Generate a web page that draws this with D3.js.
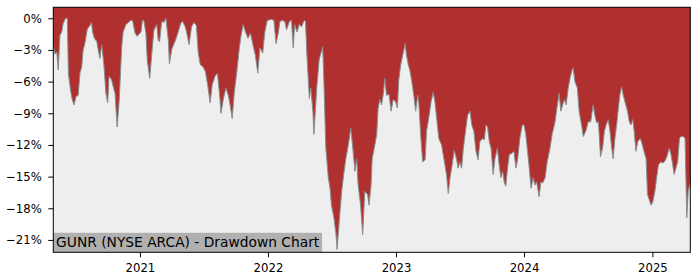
<!DOCTYPE html>
<html>
<head>
<meta charset="utf-8">
<script src="https://cdn.jsdelivr.net/npm/d3@7"></script>
<style>
  body { margin: 0; background: #fff; }
  svg { display: block; font-family: "DejaVu Sans", sans-serif; }
</style>
</head>
<body>
<div id="container"></div>
<script>
const width = 700, height = 280;
const margin = { top: 7.3, right: 9.7, bottom: 27.7, left: 53.3 };

const title = "GUNR (NYSE ARCA) - Drawdown Chart";

// drawdown in %
const dates = [
  "2020-04-29","2020-05-04","2020-05-09","2020-05-13","2020-05-18","2020-05-23","2020-05-27","2020-06-03","2020-06-08","2020-06-11",
  "2020-06-17","2020-06-22","2020-06-27","2020-07-03","2020-07-09","2020-07-14","2020-07-19","2020-07-23","2020-07-28","2020-08-04",
  "2020-08-09","2020-08-16","2020-08-19","2020-08-24","2020-08-31","2020-09-04","2020-09-09","2020-09-14","2020-09-20","2020-09-26",
  "2020-10-01","2020-10-05","2020-10-12","2020-10-17","2020-10-22","2020-10-28","2020-11-03","2020-11-10","2020-11-14","2020-11-22",
  "2020-11-29","2020-12-05","2020-12-11","2020-12-18","2020-12-24","2021-01-04","2021-01-08","2021-01-12","2021-01-18","2021-01-22",
  "2021-01-29","2021-02-03","2021-02-10","2021-02-18","2021-02-22","2021-02-26","2021-03-04","2021-03-10","2021-03-16","2021-03-23",
  "2021-03-26","2021-04-02","2021-04-12","2021-04-20","2021-04-27","2021-05-03","2021-05-10","2021-05-14","2021-05-21","2021-05-28",
  "2021-06-04","2021-06-11","2021-06-16","2021-06-22","2021-06-30","2021-07-07","2021-07-13","2021-07-20","2021-07-26","2021-08-03",
  "2021-08-10","2021-08-17","2021-08-20","2021-08-27","2021-09-03","2021-09-10","2021-09-15","2021-09-21","2021-09-27","2021-10-04",
  "2021-10-11","2021-10-15","2021-10-22","2021-10-29","2021-11-05","2021-11-12","2021-11-19","2021-11-26","2021-12-03","2021-12-09",
  "2021-12-17","2021-12-23","2021-12-30","2022-01-11","2022-01-18","2022-01-24","2022-01-31","2022-02-04","2022-02-11","2022-02-18",
  "2022-02-23","2022-03-03","2022-03-09","2022-03-14","2022-03-18","2022-03-25","2022-03-31","2022-04-07","2022-04-14","2022-04-18",
  "2022-04-22","2022-04-29","2022-05-03","2022-05-09","2022-05-12","2022-05-20","2022-05-27","2022-06-06","2022-06-10","2022-06-15",
  "2022-06-22","2022-06-27","2022-07-01","2022-07-08","2022-07-14","2022-07-17","2022-07-23","2022-07-30","2022-08-06","2022-08-11",
  "2022-08-18","2022-08-25","2022-08-30","2022-09-06","2022-09-11","2022-09-15","2022-09-22","2022-09-28","2022-10-04","2022-10-12",
  "2022-10-16","2022-10-22","2022-10-25","2022-10-31","2022-11-07","2022-11-11","2022-11-16","2022-11-21","2022-11-26","2022-11-30",
  "2022-12-05","2022-12-12","2022-12-18","2022-12-24","2022-12-31","2023-01-05","2023-01-09","2023-01-15","2023-01-22","2023-01-27",
  "2023-01-31","2023-02-05","2023-02-10","2023-02-15","2023-02-22","2023-02-26","2023-03-04","2023-03-07","2023-03-13","2023-03-18",
  "2023-03-25","2023-03-29","2023-04-05","2023-04-11","2023-04-17","2023-04-22","2023-04-27","2023-05-03","2023-05-11","2023-05-19",
  "2023-05-25","2023-05-30","2023-06-04","2023-06-10","2023-06-16","2023-06-23","2023-06-27","2023-07-02","2023-07-07","2023-07-12",
  "2023-07-17","2023-07-24","2023-07-31","2023-08-05","2023-08-11","2023-08-17","2023-08-23","2023-08-28","2023-09-04","2023-09-10",
  "2023-09-14","2023-09-19","2023-09-24","2023-09-29","2023-10-05","2023-10-10","2023-10-17","2023-10-22","2023-10-27","2023-11-01",
  "2023-11-06","2023-11-10","2023-11-15","2023-11-20","2023-11-27","2023-12-03","2023-12-09","2023-12-14","2023-12-20","2023-12-27",
  "2024-01-01","2024-01-06","2024-01-11","2024-01-16","2024-01-21","2024-01-27","2024-02-01","2024-02-06","2024-02-13","2024-02-18",
  "2024-02-23","2024-03-01","2024-03-07","2024-03-15","2024-03-21","2024-03-29","2024-04-05","2024-04-10","2024-04-15","2024-04-20",
  "2024-04-25","2024-04-30","2024-05-06","2024-05-11","2024-05-16","2024-05-20","2024-05-25","2024-06-01","2024-06-06","2024-06-13",
  "2024-06-18","2024-06-26","2024-07-02","2024-07-09","2024-07-16","2024-07-21","2024-07-26","2024-07-31","2024-08-06","2024-08-12",
  "2024-08-17","2024-08-22","2024-08-28","2024-09-02","2024-09-07","2024-09-11","2024-09-16","2024-09-21","2024-09-26","2024-09-30",
  "2024-10-05","2024-10-10","2024-10-17","2024-10-22","2024-10-27","2024-11-01","2024-11-06","2024-11-10","2024-11-15","2024-11-20",
  "2024-11-27","2024-12-01","2024-12-08","2024-12-14","2024-12-18","2024-12-23","2024-12-28","2025-01-02","2025-01-08","2025-01-13",
  "2025-01-18","2025-01-25","2025-01-30","2025-02-04","2025-02-09","2025-02-13","2025-02-18","2025-02-23","2025-02-28","2025-03-04",
  "2025-03-09","2025-03-14","2025-03-19","2025-03-23","2025-03-30","2025-04-04","2025-04-09","2025-04-13","2025-04-19"
];
const drawdown = [
  -2.5,-3.4,-3.2,-4.9,-1.6,-1.3,-0.5,0,0,-5.2,
  -6.8,-7.7,-8.2,-7.4,-7.3,-5.2,-4.6,-3.0,-2.4,-1.0,
  -0.8,-0.4,-1.3,-1.9,-2.2,-3.0,-3.8,-2.5,-4.3,-7.1,
  -8.0,-5.5,-5.8,-6.5,-7.1,-10.3,-7.7,-2.7,-1.3,-0.6,
  -0.4,-0.2,-0.2,-1.4,-1.7,-1.3,-0.2,-0.2,-1.4,-4.0,
  -5.7,-3.6,-1.1,-0.6,-2.1,-2.2,-0.3,-0.4,0,-2.1,
  -4.3,-2.9,-2.1,-1.3,-0.5,-0.3,-0.8,-1.3,-2.5,-0.8,
  -0.4,-0.7,-3.2,-4.4,-4.6,-5.1,-6.3,-8.0,-6.3,-5.5,
  -5.2,-7.6,-9.0,-7.6,-6.6,-7.3,-8.2,-9.5,-7.0,-5.1,
  -2.9,-1.9,-0.6,-1.3,-1.9,-1.4,-2.5,-3.5,-5.2,-2.8,
  -3.3,-1.3,-0.2,-0.1,-0.2,-2.4,-1.3,-0.3,-0.2,-0.3,
  -1.1,-0.3,-0.2,-2.8,-0.6,-1.3,-0.6,-0.8,-0.2,-0.3,
  -3.5,-7.6,-6.6,-8.8,-11.0,-6.6,-3.9,-2.7,-6.6,-12.3,
  -15.1,-16.1,-17.7,-18.9,-20.5,-21.9,-19.3,-16.4,-14.5,-13.3,
  -12.0,-10.4,-12.0,-14.5,-13.3,-15.8,-17.7,-20.5,-16.4,-16.7,
  -17.7,-15.8,-13.3,-12.3,-11.0,-8.5,-7.7,-8.2,-7.1,-5.7,
  -7.3,-7.2,-8.8,-7.7,-7.9,-8.5,-5.8,-4.3,-3.2,-2.4,
  -3.5,-4.4,-5.0,-6.0,-7.6,-8.8,-7.3,-8.0,-11.4,-13.6,
  -13.4,-10.7,-9.3,-7.9,-7.0,-7.9,-9.5,-11.4,-12.0,-13.6,
  -14.8,-16.6,-15.1,-13.9,-12.5,-13.4,-14.2,-13.6,-14.2,-12.3,
  -11.0,-9.2,-8.8,-10.1,-10.7,-12.6,-13.4,-11.7,-11.4,-11.5,
  -10.1,-10.3,-11.7,-12.3,-14.8,-13.3,-12.3,-13.9,-15.1,-14.5,
  -15.6,-15.9,-14.2,-12.9,-12.8,-12.6,-14.2,-13.3,-11.4,-10.1,
  -10.1,-11.0,-12.6,-14.2,-16.1,-15.1,-15.8,-15.5,-16.9,-15.5,
  -15.6,-15.1,-13.6,-12.3,-11.0,-9.9,-8.2,-7.1,-8.8,-8.2,
  -7.7,-8.2,-6.6,-5.7,-5.0,-4.7,-6.0,-6.6,-8.8,-10.1,
  -11.2,-10.6,-9.8,-9.8,-8.2,-9.2,-9.9,-9.8,-13.1,-12.3,
  -10.7,-10.1,-9.6,-10.7,-12.3,-13.3,-11.4,-10.1,-8.5,-7.3,
  -6.5,-7.3,-8.2,-8.8,-9.8,-10.1,-9.6,-10.7,-12.6,-11.7,
  -11.4,-11.7,-12.6,-13.3,-16.7,-17.2,-17.7,-17.4,-16.4,-15.1,
  -13.9,-13.6,-13.7,-13.6,-13.3,-12.9,-12.3,-12.9,-13.9,-14.8,
  -14.2,-13.6,-11.4,-11.2,-11.2,-11.4,-18.9,-16.4,-15.5
];

const yTicks = [0, -3, -6, -9, -12, -15, -18, -21];
const yDomain = [-22.17, 1.04];

const parse = d3.timeParse("%Y-%m-%d");
const data = dates.map((d, i) => ({ date: parse(d), dd: drawdown[i] }));

const svg = d3.select("#container")
    .append("svg")
    .attr("width", width)
    .attr("height", height);

const x = d3.scaleTime()
    .domain(d3.extent(data, d => d.date))
    .range([margin.left, width - margin.right]);

const y = d3.scaleLinear()
    .domain(yDomain)
    .range([height - margin.bottom, margin.top]);

// plot background
svg.append("rect")
    .attr("x", margin.left)
    .attr("y", margin.top)
    .attr("width", width - margin.left - margin.right)
    .attr("height", height - margin.top - margin.bottom)
    .attr("fill", "#eeeeee");

// red area from the top of the plot down to the drawdown line
const area = d3.area()
    .x(d => x(d.date))
    .y0(y(yDomain[1]))
    .y1(d => y(d.dd));

svg.append("path")
    .datum(data)
    .attr("fill", "#b03030")
    .attr("d", area);

const line = d3.line()
    .x(d => x(d.date))
    .y(d => y(d.dd));

svg.append("path")
    .datum(data)
    .attr("fill", "none")
    .attr("stroke", "#8c8c8c")
    .attr("stroke-width", 1)
    .attr("d", line);

// label box
const label = svg.append("g");
const labelBg = label.append("rect").attr("fill", "#b0b0b0");
const labelText = label.append("text")
    .attr("x", margin.left + 2.8)
    .attr("y", height - margin.bottom - 5)
    .attr("font-size", 13.8)
    .attr("fill", "#000")
    .text(title);
const tw = labelText.node().getComputedTextLength();
labelBg
    .attr("x", margin.left)
    .attr("y", height - margin.bottom - 19.5)
    .attr("width", tw + 5.6)
    .attr("height", 19.5);

// axes
const fmt = d3.format("d");
const yAxis = d3.axisLeft(y)
    .tickValues(yTicks)
    .tickSize(5)
    .tickPadding(6.5)
    .tickFormat(d => fmt(d) + "%");

svg.append("g")
    .attr("transform", `translate(${margin.left},0)`)
    .call(yAxis)
    .call(g => g.select(".domain").remove())
    .call(g => g.selectAll("text").attr("font-size", 11.7).attr("fill", "#000").attr("font-family", "DejaVu Sans"))
    .call(g => g.selectAll("line").attr("stroke", "#000").attr("stroke-width", 1));

const xAxis = d3.axisBottom(x)
    .ticks(d3.timeYear.every(1))
    .tickSize(5)
    .tickPadding(6)
    .tickFormat(d3.timeFormat("%Y"));

svg.append("g")
    .attr("transform", `translate(0,${height - margin.bottom})`)
    .call(xAxis)
    .call(g => g.select(".domain").remove())
    .call(g => g.selectAll("text").attr("font-size", 11.7).attr("fill", "#000").attr("font-family", "DejaVu Sans"))
    .call(g => g.selectAll("line").attr("stroke", "#000").attr("stroke-width", 1));

// frame
svg.append("rect")
    .attr("x", margin.left)
    .attr("y", margin.top)
    .attr("width", width - margin.left - margin.right)
    .attr("height", height - margin.top - margin.bottom)
    .attr("fill", "none")
    .attr("stroke", "#000")
    .attr("stroke-width", 1);
</script>
</body>
</html>
